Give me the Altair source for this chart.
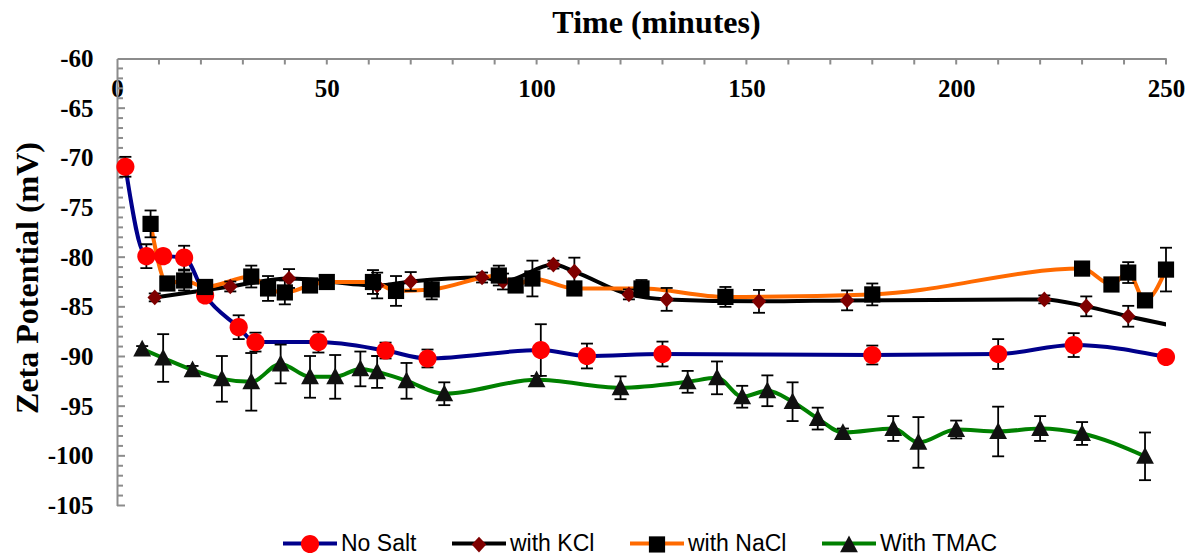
import altair as alt
import pandas as pd

# ---------------- data ----------------
series_names = ["No Salt", "with KCl", "with NaCl", "With TMAC"]
line_colors = ["#00008B", "#000000", "#FF6A00", "#008000"]
marker_colors = ["#FF0000", "#7F0000", "#000000", "#111111"]
marker_shapes = [
    "M0.336,0A0.336,0.336,0,1,1,-0.336,0A0.336,0.336,0,1,1,0.336,0Z",
    "M0,-0.29L0.27,0L0,0.29L-0.27,0Z",
    "M-0.3,-0.3H0.3V0.3H-0.3Z",
    "M0,-0.345L0.33,0.275H-0.33Z",
]

nosalt_t = [2, 7, 11, 16, 21, 29, 33, 48, 64, 74, 101, 112, 130, 180, 210, 228, 250]
nosalt_v = [-70.9, -79.9, -79.9, -80.05, -83.85, -87.05, -88.55, -88.55, -89.4, -90.2,
            -89.35, -89.95, -89.75, -89.85, -89.75, -88.85, -90.05]
nosalt_e = [1.0, 1.2, 0.6, 1.2, 0.5, 1.2, 0.95, 1.05, 0.8, 0.9, 2.6, 1.25, 1.25, 0.95, 1.5, 1.2, 0.5]

kcl_t = [9, 27, 41, 62, 70, 87, 92, 104, 109, 122, 131, 153, 174, 221, 231, 241, 255]
kcl_v = [-84.05, -82.95, -82.15, -82.85, -82.45, -82.05, -82.45, -80.75, -81.45, -83.75,
         -84.25, -84.45, -84.35, -84.25, -84.95, -85.95, -87.2]
kcl_e = [0.4, 0.5, 0.95, 1.3, 0.95, 0.5, 0.8, 0.4, 1.4, 0.5, 1.15, 1.15, 1.0, 0.4, 1.0, 1.05, 0.0]

nacl_t = [8, 12, 16, 21, 32, 36, 40, 46, 50, 61, 66.5, 75, 91, 95, 99, 109, 125, 145, 180,
          230, 237, 241, 245, 250]
nacl_v = [-76.65, -82.65, -82.35, -83.0, -81.95, -83.15, -83.55, -82.85, -82.5, -82.5, -83.4,
          -83.25, -81.85, -82.85, -82.15, -83.15, -83.15, -84.0, -83.75, -81.15, -82.75,
          -81.55, -84.35, -81.25]
nacl_e = [1.35, 0.5, 1.0, 0.5, 1.1, 1.25, 1.2, 0.3, 0.3, 1.2, 1.5, 1.0, 1.0, 0.5, 1.8, 0.3,
          0.85, 1.0, 1.1, 0.5, 0.3, 1.05, 0.6, 2.2]

tmac_t = [6, 11, 18, 25, 32, 39, 46, 52, 58, 62, 69, 78, 100, 120, 136, 143, 149, 155, 161,
          167, 173, 185, 191, 200, 210, 220, 230, 245]
tmac_v = [-89.25, -90.15, -91.35, -92.25, -92.55, -90.75, -92.05, -92.05, -91.25, -91.55,
          -92.45, -93.75, -92.35, -93.15, -92.55, -92.15, -94.05, -93.45, -94.55, -96.25,
          -97.65, -97.25, -98.65, -97.35, -97.55, -97.25, -97.75, -100.05]
tmac_e = [0.3, 2.4, 0.4, 2.3, 2.9, 1.95, 2.1, 2.2, 1.75, 1.6, 1.8, 1.15, 0.4, 1.15, 1.1, 1.65,
          1.1, 1.55, 1.95, 1.1, 0.4, 1.25, 2.55, 0.9, 2.5, 1.25, 1.15, 2.4]

x_label_values = [0, 50, 100, 150, 200, 250]
y_label_values = [-60, -65, -70, -75, -80, -85, -90, -95, -100, -105]
x_tick_values = [10, 20, 30, 40, 50, 60, 70, 80, 90, 100, 110, 120, 130, 140, 150, 160, 170,
                 180, 190, 200, 210, 220, 230, 240, 250]
y_major_ticks = [-65, -70, -75, -80, -85, -90, -95, -100, -105]
y_minor_ticks = [v for v in range(-61, -106, -1) if v % 5 != 0]

# ---------------- tables ----------------
marker_names = ["m_" + s for s in series_names]
rows = []
for name, ts, vs, es in [
    (series_names[0], nosalt_t, nosalt_v, nosalt_e),
    (series_names[1], kcl_t, kcl_v, kcl_e),
    (series_names[2], nacl_t, nacl_v, nacl_e),
    (series_names[3], tmac_t, tmac_v, tmac_e),
]:
    for t, v, e in zip(ts, vs, es):
        rows.append({"series": name, "marker": "m_" + name, "t": t, "v": v,
                     "lo": v - e, "hi": v + e})
df = pd.DataFrame(rows)

SERIF = "Liberation Serif"
SANS = "Liberation Sans"
AX_COLOR = "#8C8C8C"
SYMBOL_SIZE = 2916

x_scale = alt.Scale(domain=[0, 250], nice=False, zero=False)
y_scale = alt.Scale(domain=[-105, -60], nice=False, zero=False)

x_axis = alt.Axis(
    orient="top", values=x_label_values, grid=False, ticks=False, tickSize=0,
    domain=True, domainColor=AX_COLOR, domainWidth=2,
    labelFont=SERIF, labelFontWeight="bold", labelFontSize=25, labelColor="black",
    labelPadding=-38, labelBaseline="alphabetic", labelFlush=False, labelOverlap=False,
    titleFont=SERIF, titleFontWeight="bold", titleFontSize=32, titleColor="black",
    titleX=539, titleY=-26, titleBaseline="alphabetic",
)
y_axis = alt.Axis(
    orient="left", values=y_label_values, grid=False, ticks=False, tickSize=0,
    domain=True, domainColor=AX_COLOR, domainWidth=2,
    labelFont=SERIF, labelFontWeight="bold", labelFontSize=25, labelColor="black",
    labelPadding=24, labelFlush=False, labelOverlap=False,
    labelExpr="datum.value < 0 ? '-' + abs(datum.value) : '' + datum.value",
    titleFont=SERIF, titleFontWeight="bold", titleFontSize=32, titleColor="black",
    titleX=-80, titleY=219, titleBaseline="alphabetic",
)


def X(field):
    return alt.X(field, type="quantitative", scale=x_scale, axis=x_axis, title="Time (minutes)")


def Y(field):
    return alt.Y(field, type="quantitative", scale=y_scale, axis=y_axis, title="Zeta Potential (mV)")


legend_common = dict(
    orient="none", direction="horizontal", title=None, legendX=164, legendY=456,
    symbolSize=SYMBOL_SIZE, symbolStrokeWidth=4, labelFont=SANS, labelFontSize=23,
    labelColor="black", columnPadding=27, padding=0, labelLimit=300,
)
line_legend = alt.Legend(symbolType="stroke", labelOffset=2, **legend_common)
marker_legend = alt.Legend(labelOpacity=0, symbolStrokeColor="transparent", labelOffset=8,
                           labelExpr="replace(datum.label, 'm_', '')", **legend_common)

# ---------------- layers ----------------
x_ticks = alt.Chart(pd.DataFrame({"xt": x_tick_values})).mark_rule(
    color=AX_COLOR, strokeWidth=2).encode(x=X("xt"), y=alt.value(0), y2=alt.value(6))
y_minor = alt.Chart(pd.DataFrame({"yt": y_minor_ticks})).mark_rule(
    color=AX_COLOR, strokeWidth=2).encode(y=Y("yt"), x=alt.value(0), x2=alt.value(6))
y_major = alt.Chart(pd.DataFrame({"yt": y_major_ticks})).mark_rule(
    color=AX_COLOR, strokeWidth=2).encode(y=Y("yt"), x=alt.value(0), x2=alt.value(8))

lines = alt.Chart(df).mark_line(strokeWidth=4, interpolate="monotone", clip=True).encode(
    x=X("t"), y=Y("v"),
    color=alt.Color("series:N", scale=alt.Scale(domain=series_names, range=line_colors),
                    legend=line_legend),
)

visible = "datum.t <= 250"
err_rule = alt.Chart(df).transform_filter(visible).mark_rule(
    color="black", strokeWidth=1.8).encode(x=X("t"), y=Y("lo"), y2="hi:Q")
err_caps = alt.Chart(df).transform_filter(visible).transform_fold(
    ["lo", "hi"], as_=["end", "yv"]).mark_tick(
    orient="horizontal", color="black", thickness=1.8, size=12, opacity=1).encode(
    x=X("t"), y=Y("yv"))

points = alt.Chart(df).transform_filter(visible).mark_point(
    filled=True, size=SYMBOL_SIZE, opacity=1, stroke="transparent", strokeWidth=4).encode(
    x=X("t"), y=Y("v"),
    fill=alt.Fill("marker:N", scale=alt.Scale(domain=marker_names, range=marker_colors),
                  legend=marker_legend),
    shape=alt.Shape("marker:N", scale=alt.Scale(domain=marker_names, range=marker_shapes),
                    legend=marker_legend),
)

chart = alt.layer(x_ticks, y_minor, y_major, lines, err_rule, err_caps, points).properties(
    width=1049, height=447,
    padding={"left": 117, "top": 58.5, "right": 34, "bottom": 51.5},
    autosize=alt.AutoSizeParams(type="none"),
    background="white",
).configure_view(strokeOpacity=0)

chart.save("out.html", embed_options={"renderer": "svg", "actions": False})
